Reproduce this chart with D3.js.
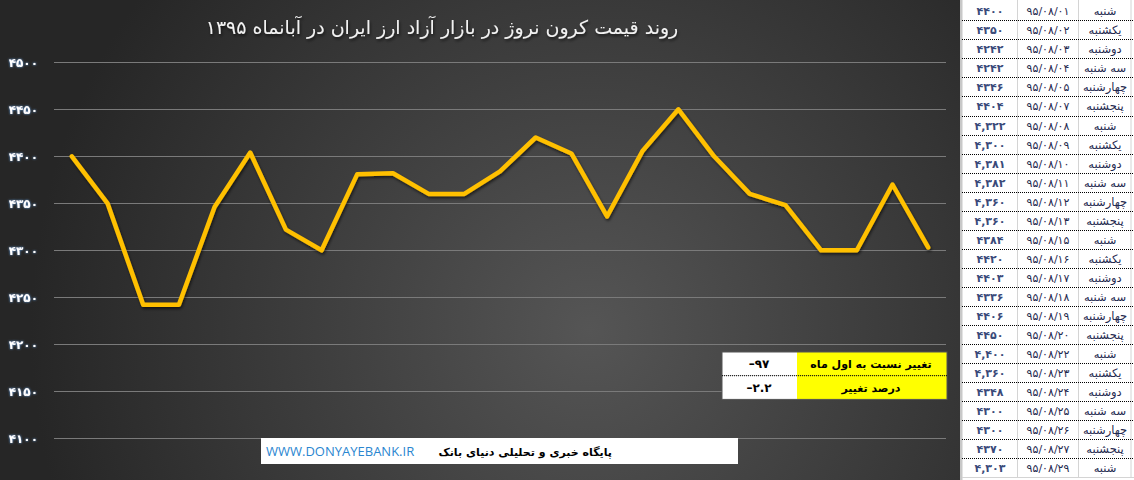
<!DOCTYPE html>
<html>
<head>
<meta charset="utf-8">
<script src="https://cdn.jsdelivr.net/npm/d3@7"></script>
<style>
  body { margin: 0; background: #fff; }
  svg { display: block; }
  .ltr { direction: ltr; unicode-bidi: bidi-override; }
</style>
</head>
<body>
<svg width="1134" height="480"></svg>
<script>
var days = ["شنبه", "یکشنبه", "دوشنبه", "سه شنبه", "چهارشنبه", "پنجشنبه", "شنبه", "یکشنبه", "دوشنبه",
            "سه شنبه", "چهارشنبه", "پنجشنبه", "شنبه", "یکشنبه", "دوشنبه", "سه شنبه", "چهارشنبه", "پنجشنبه",
            "شنبه", "یکشنبه", "دوشنبه", "سه شنبه", "چهارشنبه", "پنجشنبه", "شنبه"];
var dayOfMonth = [1, 2, 3, 4, 5, 7, 8, 9, 10, 11, 12, 13, 15, 16, 17, 18, 19, 20, 22, 23, 24, 25, 26, 27, 29];
var prices = [4400, 4350, 4242, 4242, 4346, 4404, 4322, 4300, 4381, 4382, 4360, 4360, 4384,
              4420, 4403, 4336, 4406, 4450, 4400, 4360, 4348, 4300, 4300, 4370, 4303];
// rows where the sheet shows a thousands separator
var commaRows = [6, 7, 8, 9, 10, 11, 18, 19, 24];
var yTicks = [4100, 4150, 4200, 4250, 4300, 4350, 4400, 4450, 4500];

var title = "روند قیمت کرون نروژ در بازار آزاد ارز ایران در آبانماه ۱۳۹۵";
var boxLabels = ["تغییر نسبت به اول ماه", "درصد تغییر"];
var siteUrl = "WWW.DONYAYEBANK.IR";
var siteName = "پایگاه خبری و تحلیلی دنیای بانک";

var faFont = "'DejaVu Sans', sans-serif";

function fa(s) {
  return String(s).replace(/[0-9]/g, function(c) { return "۰۱۲۳۴۵۶۷۸۹"[+c]; });
}
function pad2(n) { return n < 10 ? "0" + n : "" + n; }

var svg = d3.select("svg");
var defs = svg.append("defs");

var grad = defs.append("radialGradient").attr("id", "bg")
    .attr("gradientUnits", "userSpaceOnUse")
    .attr("cx", 590).attr("cy", 330).attr("r", 560);
grad.append("stop").attr("offset", "0%").attr("stop-color", "#555555");
grad.append("stop").attr("offset", "100%").attr("stop-color", "#262626");

var shadow = defs.append("filter").attr("id", "shadow")
    .attr("x", "-10%").attr("y", "-10%").attr("width", "120%").attr("height", "130%");
shadow.append("feDropShadow").attr("dx", 1).attr("dy", 2).attr("stdDeviation", 1.5)
    .attr("flood-color", "#000").attr("flood-opacity", 0.6);

var glow = defs.append("filter").attr("id", "glow");
glow.append("feDropShadow").attr("dx", 0).attr("dy", 0).attr("stdDeviation", 1)
    .attr("flood-color", "#6fb6ff").attr("flood-opacity", 0.9);

// chart background
svg.append("rect").attr("x", 0).attr("y", 0).attr("width", 961).attr("height", 480)
    .attr("fill", "url(#bg)");

// scales
var x = d3.scalePoint().domain(d3.range(prices.length)).range([54, 946]).padding(0.5);
var y = d3.scaleLinear().domain([4100, 4500]).range([438.3, 62.3]);

// gridlines
svg.append("g").selectAll("line").data(yTicks).join("line")
    .attr("x1", 54).attr("x2", 946)
    .attr("y1", function(d) { return Math.round(y(d)) + 0.5; })
    .attr("y2", function(d) { return Math.round(y(d)) + 0.5; })
    .attr("stroke", "#7a7a7a").attr("stroke-width", 1);

// y axis labels
var yAxis = svg.append("g").attr("transform", "translate(38,0)")
    .call(d3.axisLeft(y).tickValues(yTicks).tickSize(0).tickPadding(0)
      .tickFormat(function(d) { return fa(d); }));
yAxis.select(".domain").remove();
yAxis.selectAll("text")
    .attr("class", "ltr")
    .attr("fill", "#fff").attr("font-family", faFont).attr("font-size", 12)
    .attr("font-weight", "bold").attr("filter", "url(#glow)");

// title
svg.append("text").attr("x", 442).attr("y", 34)
    .attr("text-anchor", "middle").attr("direction", "rtl")
    .attr("font-family", faFont).attr("font-size", 19).attr("fill", "#f2f2f2")
    .attr("filter", "url(#shadow)")
    .text(title);

// price line
var line = d3.line()
    .x(function(d, i) { return x(i); })
    .y(function(d) { return y(d); });

svg.append("path").datum(prices)
    .attr("d", line)
    .attr("fill", "none").attr("stroke", "#FFC000").attr("stroke-width", 4.5)
    .attr("stroke-linejoin", "round").attr("stroke-linecap", "round")
    .attr("filter", "url(#shadow)");

// change box
var change = prices[prices.length - 1] - prices[0];
var pct = change / prices[0] * 100;
var boxValues = ["–" + fa(Math.abs(change)), "–" + fa(Math.abs(pct).toFixed(1))];

var bx = 722, bw = 225, bSplit = 797, by = 352, bh = 23.7;
var box = svg.append("g");
box.selectAll("rect.v").data(boxValues).join("rect").attr("class", "v")
    .attr("x", bx).attr("y", function(d, i) { return by + i * bh; })
    .attr("width", bSplit - bx).attr("height", bh).attr("fill", "#fff");
box.selectAll("rect.l").data(boxLabels).join("rect").attr("class", "l")
    .attr("x", bSplit).attr("y", function(d, i) { return by + i * bh; })
    .attr("width", bx + bw - bSplit).attr("height", bh).attr("fill", "#ffff00");
box.append("rect").attr("x", bx).attr("y", by).attr("width", bw).attr("height", bh * 2)
    .attr("fill", "none").attr("stroke", "#555").attr("stroke-width", 1);
box.append("line").attr("x1", bx).attr("x2", bx + bw)
    .attr("y1", by + bh).attr("y2", by + bh)
    .attr("stroke", "#000").attr("stroke-dasharray", "1,1");
box.selectAll("text.v").data(boxValues).join("text").attr("class", "v ltr")
    .attr("x", 759).attr("y", function(d, i) { return by + i * bh + 16; })
    .attr("text-anchor", "middle").attr("font-family", faFont).attr("font-size", 12)
    .attr("font-weight", "bold").attr("fill", "#000")
    .text(function(d) { return d; });
box.selectAll("text.l").data(boxLabels).join("text").attr("class", "l")
    .attr("x", 871).attr("y", function(d, i) { return by + i * bh + 16; })
    .attr("text-anchor", "middle").attr("direction", "rtl")
    .attr("font-family", faFont).attr("font-size", 11)
    .attr("font-weight", "bold").attr("fill", "#000")
    .text(function(d) { return d; });

// footer
svg.append("rect").attr("x", 261).attr("y", 438).attr("width", 477).attr("height", 26)
    .attr("fill", "#fff");
svg.append("text").attr("x", 266).attr("y", 456)
    .attr("font-family", "'Open Sans', sans-serif").attr("font-size", 13)
    .attr("fill", "#2a86d0")
    .text(siteUrl);
svg.append("text").attr("x", 612).attr("y", 456)
    .attr("text-anchor", "start").attr("direction", "rtl")
    .attr("font-family", faFont).attr("font-size", 11).attr("font-weight", "bold")
    .attr("fill", "#000")
    .text(siteName);

// side table
var rowH = 19.05, tableTop = 1.2;
var cols = [962, 1017.5, 1078.5, 1131];
var table = svg.append("g");
table.append("rect").attr("x", 961).attr("y", 0).attr("width", 173).attr("height", 480)
    .attr("fill", "#fff");
table.append("rect").attr("x", 960).attr("y", 0).attr("width", 2.5).attr("height", 480)
    .attr("fill", "#c8c8c8");
table.selectAll("line.c").data(cols.slice(1)).join("line").attr("class", "c")
    .attr("x1", function(d) { return d; }).attr("x2", function(d) { return d; })
    .attr("y1", 0).attr("y2", tableTop + rowH * prices.length)
    .attr("stroke", "#d4d4d4");
table.selectAll("line.r").data(d3.range(prices.length - 1)).join("line").attr("class", "r")
    .attr("x1", 962).attr("x2", 1134)
    .attr("y1", function(i) { return Math.round(tableTop + rowH * (i + 1)) + 0.5; })
    .attr("y2", function(i) { return Math.round(tableTop + rowH * (i + 1)) + 0.5; })
    .attr("stroke", "#000").attr("stroke-dasharray", "1,1");
table.append("line").attr("x1", 962).attr("x2", 1134)
    .attr("y1", 477.5).attr("y2", 477.5).attr("stroke", "#d4d4d4");

var rows = table.selectAll("g.row").data(prices).join("g").attr("class", "row")
    .attr("transform", function(d, i) { return "translate(0," + (tableTop + rowH * i + 14) + ")"; });
rows.append("text")
    .attr("class", "ltr")
    .attr("x", 990).attr("text-anchor", "middle")
    .attr("font-family", faFont).attr("font-size", 11).attr("font-weight", "bold")
    .attr("letter-spacing", 0.5)
    .attr("fill", "#3a4a7a")
    .text(function(d, i) {
      var s = fa(d);
      return commaRows.indexOf(i) >= 0 ? s[0] + "," + s.slice(1) : s;
    });
rows.append("text")
    .attr("class", "ltr")
    .attr("x", 1048).attr("text-anchor", "middle")
    .attr("font-family", faFont).attr("font-size", 11).attr("letter-spacing", 1.2)
    .attr("fill", "#1f2a50")
    .text(function(d, i) { return fa("95/08/" + pad2(dayOfMonth[i])); });
rows.append("text")
    .attr("x", 1105).attr("text-anchor", "middle").attr("direction", "rtl")
    .attr("font-family", faFont).attr("font-size", 11.5).attr("fill", "#1f2a50")
    .text(function(d, i) { return days[i]; });
</script>
</body>
</html>
